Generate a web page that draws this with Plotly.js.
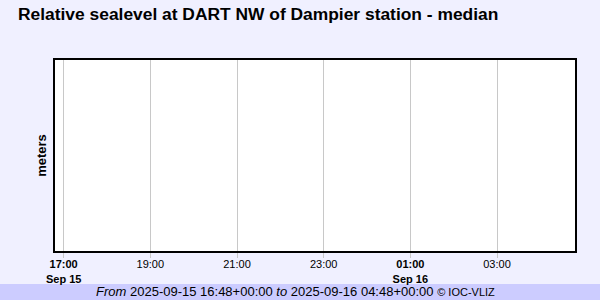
<!DOCTYPE html>
<html>
<head>
<meta charset="utf-8">
<script src="https://cdn.plot.ly/plotly-3.0.1.min.js"></script>
<style>
  html, body { margin: 0; padding: 0; background: #F0F0FF; }
  #chart { width: 600px; height: 300px; }
</style>
</head>
<body>
<div id="chart"></div>
<script>
// Observation window (UTC)
const windowStart = "2025-09-15 16:48";
const windowEnd = "2025-09-16 04:48";

// Median sea level series: no readings in this window
const sampleTimes = [];
const seaLevelMeters = [];

// Hourly tick positions and their labels
const tickTimes = ["2025-09-15 17:00", "2025-09-15 19:00", "2025-09-15 21:00",
                   "2025-09-15 23:00", "2025-09-16 01:00", "2025-09-16 03:00"];
const tickLabels = ["<b>17:00</b><br><b>Sep 15</b>", "19:00", "21:00",
                    "23:00", "<b>01:00</b><br><b>Sep 16</b>", "03:00"];

const trace = {
  x: sampleTimes,
  y: seaLevelMeters,
  type: "scatter",
  mode: "lines",
  line: { color: "#0000CC", width: 1 },
  showlegend: false
};

const layout = {
  width: 600,
  height: 300,
  paper_bgcolor: "#F0F0FF",
  plot_bgcolor: "#FFFFFF",
  margin: { l: 55, r: 25, t: 60, b: 49 },
  font: { family: "Liberation Sans, Arial, sans-serif", color: "#000000" },
  title: {
    text: "<b>Relative sealevel at DART NW of Dampier station - median</b>",
    font: { size: 17.4, color: "#000000" },
    x: 0.03, xanchor: "left",
    y: 0.953, yanchor: "middle"
  },
  xaxis: {
    type: "date",
    range: [windowStart, windowEnd],
    tickmode: "array",
    tickvals: tickTimes,
    ticktext: tickLabels,
    tickfont: { size: 11 },
    ticks: "outside",
    ticklen: 5,
    tickcolor: "#C8C8C8",
    ticklabelstandoff: -3,
    showgrid: true,
    gridcolor: "#C8C8C8",
    gridwidth: 1,
    showline: true,
    linecolor: "#000000",
    linewidth: 2,
    mirror: true,
    zeroline: false,
    fixedrange: true
  },
  yaxis: {
    range: [0, 1],
    showticklabels: false,
    ticks: "",
    showgrid: false,
    zeroline: false,
    showline: true,
    linecolor: "#000000",
    linewidth: 2,
    mirror: true,
    title: { text: "<b>meters</b>", font: { size: 13 }, standoff: 3 },
    fixedrange: true
  },
  shapes: [{
    type: "rect", xref: "paper", yref: "paper",
    x0: -0.2, x1: 1.2, y0: -0.2565, y1: -0.1728,
    fillcolor: "#CCCCFF", line: { width: 0 }, layer: "below"
  }],
  annotations: [{
    xref: "paper", yref: "paper",
    x: (295 - 55) / 520, y: -0.212,
    xanchor: "center", yanchor: "middle",
    showarrow: false,
    text: "<i>From</i> 2025-09-15 16:48+00:00 <i>to</i> 2025-09-16 04:48+00:00 <span style='font-size:11px'>© IOC-VLIZ</span>",
    font: { size: 13, color: "#000000" }
  }]
};

Plotly.newPlot("chart", [trace], layout, { displayModeBar: false, staticPlot: true });
</script>
</body>
</html>
